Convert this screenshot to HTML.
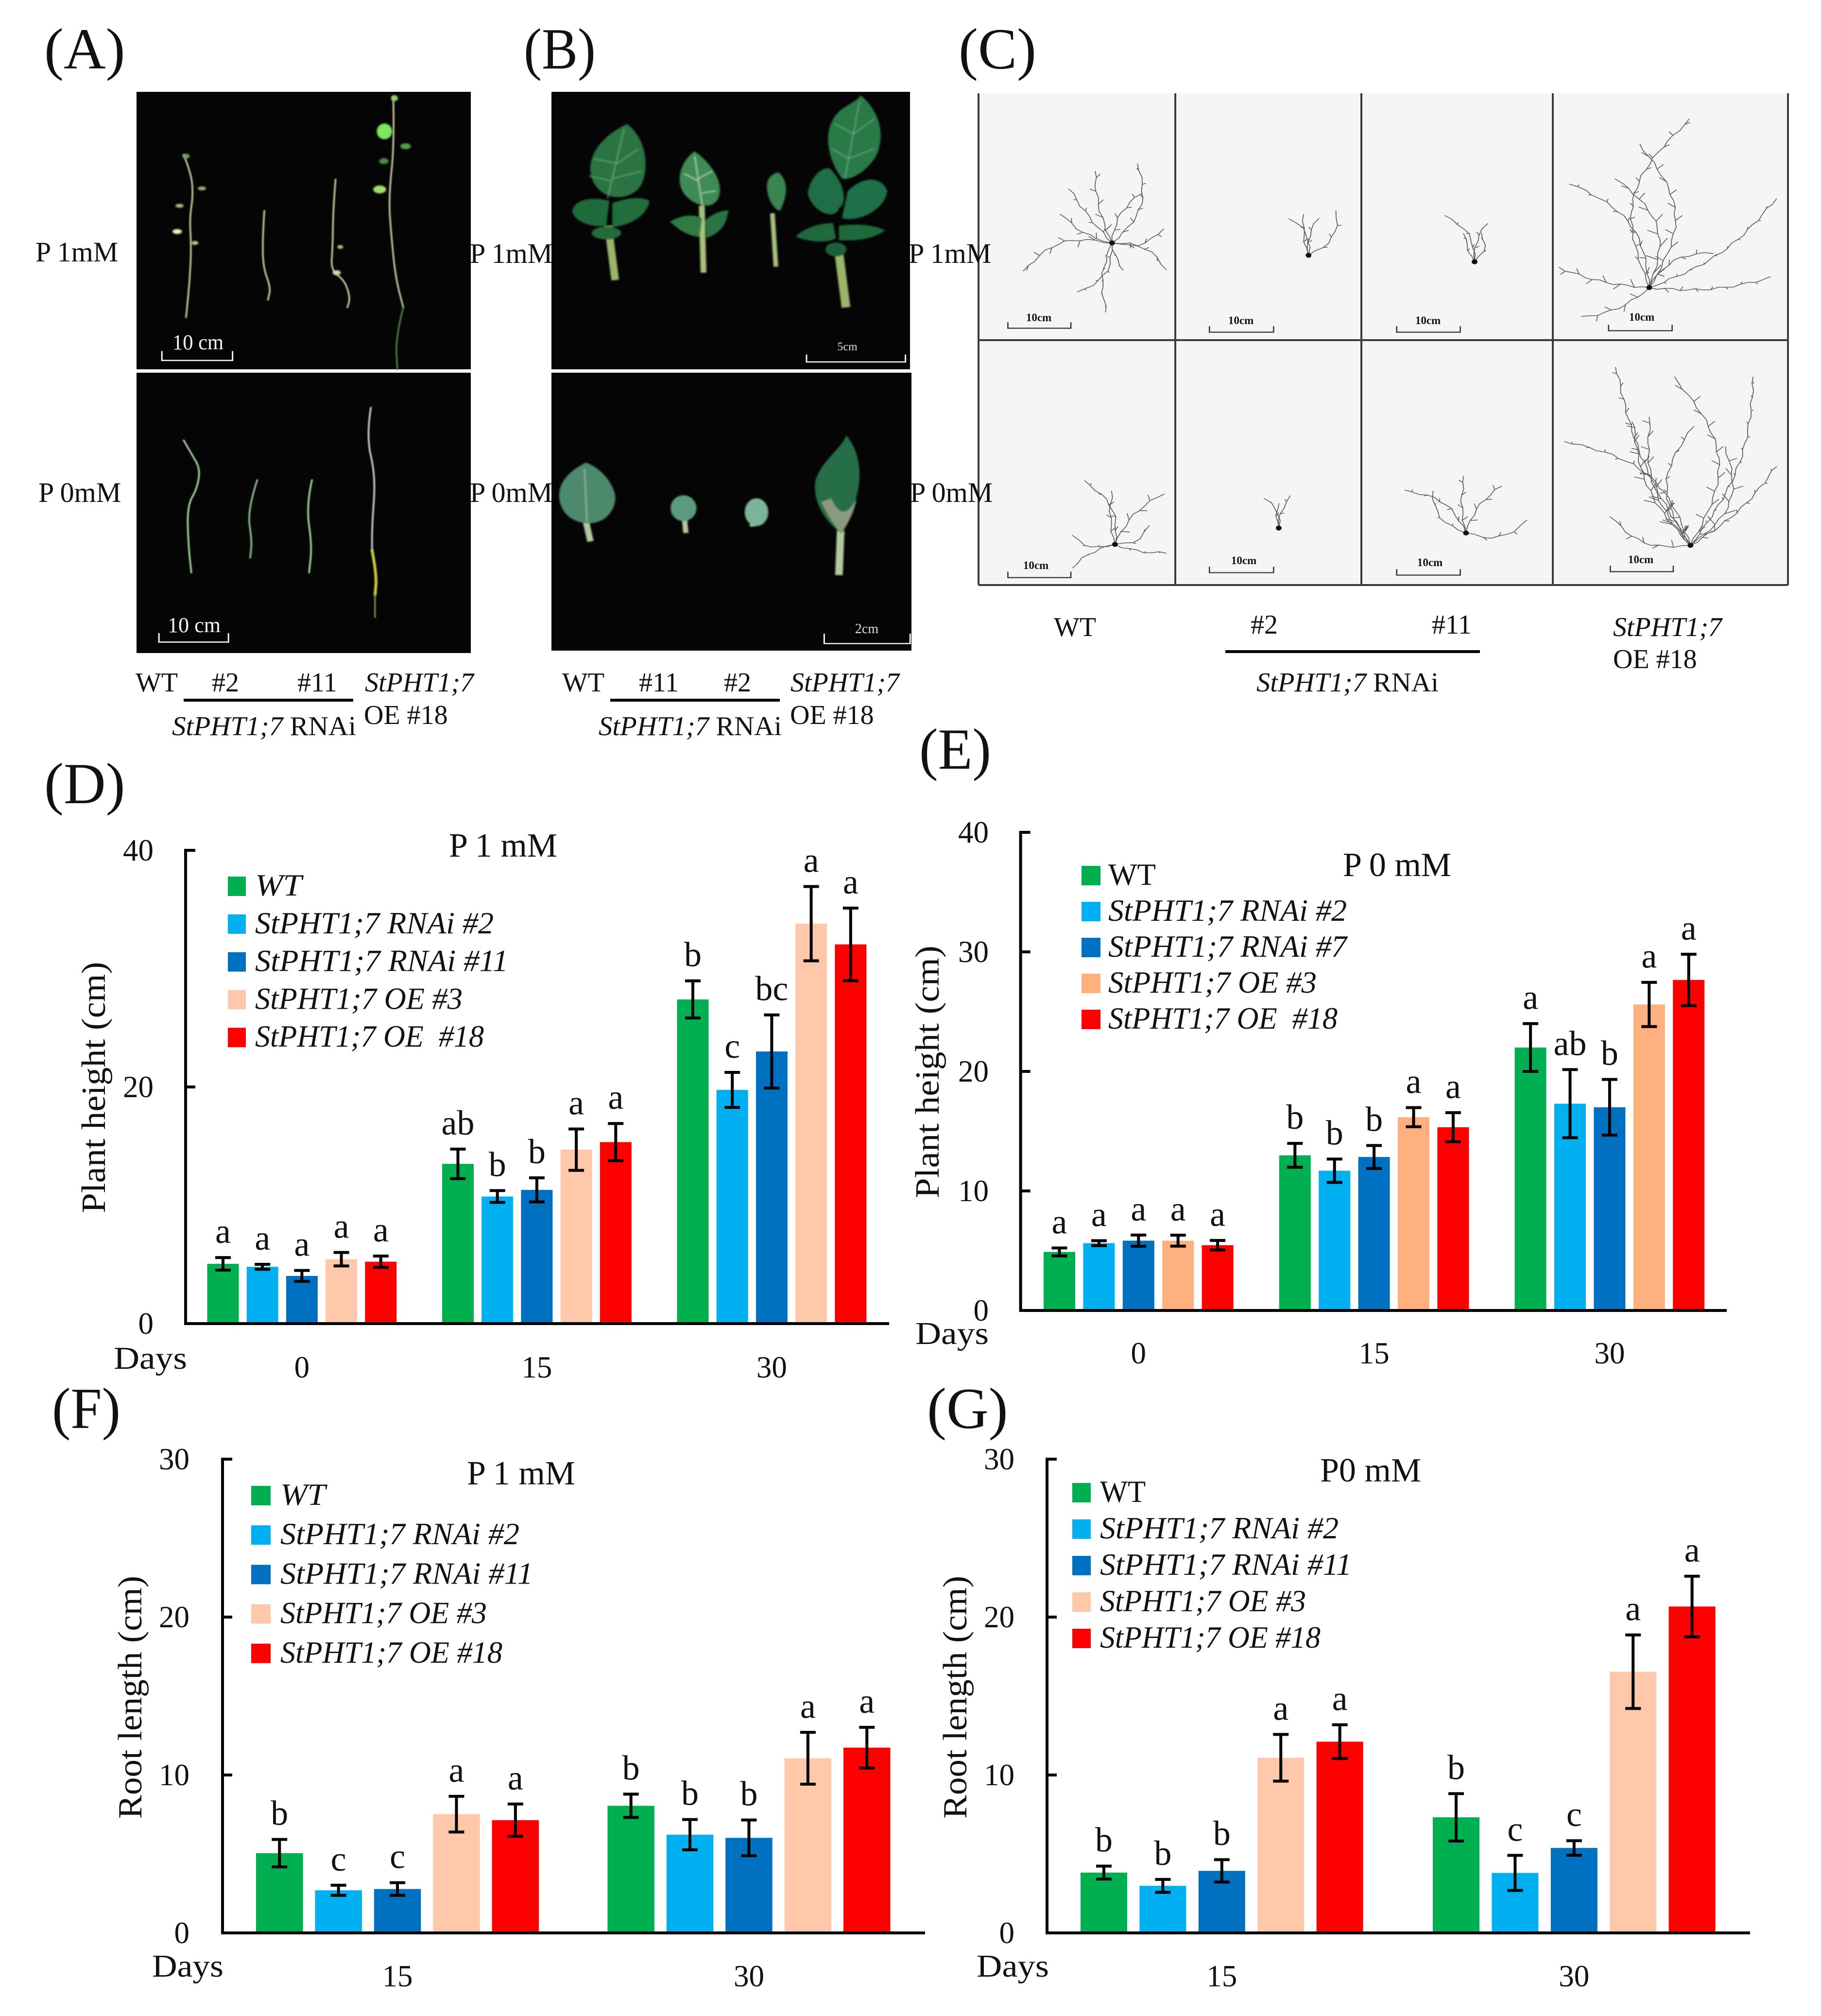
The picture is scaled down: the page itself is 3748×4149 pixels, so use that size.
<!DOCTYPE html>
<html lang="en">
<head>
<meta charset="utf-8">
<title>StPHT1;7 plant phenotype figure</title>
<style>
html,body{margin:0;padding:0;background:#fff}
svg{display:block}
text{font-family:"Liberation Serif",serif;fill:#111}
.plant{fill:none;stroke:#c4c69c;stroke-width:3;stroke-linejoin:round;stroke-linecap:round;filter:blur(1px)}
.leaf{stroke:none}
.soft{filter:blur(1.5px)}
.vein{fill:none;stroke:#7fb58e;stroke-width:2;stroke-opacity:.75}
.sbar{fill:none;stroke:#f2f2f2;stroke-width:2.5}
.cbar{fill:none;stroke:#333;stroke-width:2.2}
</style>
</head>
<body>
<svg xmlns="http://www.w3.org/2000/svg" width="3748" height="4149" viewBox="0 0 3748 4149">
<rect width="3748" height="4149" fill="#fff"/>

<!-- Panel A -->
<g>
  <rect x="281" y="189" width="688" height="571" fill="#050505"/>
  <rect x="281" y="767" width="688" height="577" fill="#050505"/>
  <g transform="scale(1.2117,1.0204)">
    <path class="plant" d="M312 312 L325 350 L328 395 L322 440 L325 500 L322 570 L316 640"/>
    <path class="plant" d="M449 425 L446 480 L447 540 L460 580 L455 605"/>
    <path class="plant" d="M570 362 L566 420 L565 500 L562 545 L585 565 L595 600 L590 620"/>
    <path class="plant" d="M668 195 L670 290 L660 400 L665 480 L672 560 L685 620"/>
    <path class="plant" style="stroke:#4c7a45" d="M685 620 L672 680 L675 745"/>
    <g class="soft">
      <ellipse class="leaf" cx="343" cy="380" rx="7" ry="4" fill="#8fb070"/>
      <ellipse class="leaf" cx="305" cy="415" rx="7" ry="4" fill="#9fbb80"/>
      <ellipse class="leaf" cx="301" cy="467" rx="8" ry="5" fill="#e8edb0"/>
      <ellipse class="leaf" cx="331" cy="490" rx="6" ry="4" fill="#b5c890"/>
      <ellipse class="leaf" cx="316" cy="315" rx="6" ry="5" fill="#7aa060"/>
      <ellipse class="leaf" cx="572" cy="550" rx="7" ry="5" fill="#cfd8a0"/>
      <ellipse class="leaf" cx="578" cy="498" rx="5" ry="4" fill="#a8c080"/>
      <ellipse class="leaf" cx="653" cy="265" rx="13" ry="16" fill="#7ce85e"/>
      <ellipse class="leaf" cx="689" cy="295" rx="9" ry="6" fill="#4e9e4a"/>
      <ellipse class="leaf" cx="652" cy="325" rx="8" ry="6" fill="#4a8a48"/>
      <ellipse class="leaf" cx="645" cy="382" rx="11" ry="8" fill="#9ee070"/>
      <ellipse class="leaf" cx="670" cy="198" rx="6" ry="6" fill="#8fd070"/>
    </g>
    <path class="plant" style="stroke:#a9d8a0" d="M312 888 L325 915 L340 945 L335 985 L318 1020 L320 1100 L325 1155"/>
    <path class="plant" style="stroke:#8fc090" d="M437 968 L420 1030 L428 1090 L425 1125"/>
    <path class="plant" style="stroke:#a9d8a0" d="M530 968 L520 1020 L530 1100 L525 1155"/>
    <path class="plant" style="stroke:#c8d8c0" d="M630 822 L622 880 L638 960 L632 1060 L632 1110"/>
    <path class="plant" style="stroke:#c4c83c;stroke-width:5" d="M632 1110 L640 1160 L637 1200"/>
    <path class="plant" style="stroke:#6d8a4a" d="M637 1200 L637 1245"/>
    <path class="sbar" d="M275 708 V727 H395 V708"/>
    <path class="sbar" d="M270 1277 V1295 H388 V1277"/>
  </g>
  <text x="355" y="719" font-size="44" textLength="105" lengthAdjust="spacingAndGlyphs" style="fill:#f4f4f4">10 cm</text>
  <text x="345" y="1301" font-size="44" textLength="109" lengthAdjust="spacingAndGlyphs" style="fill:#f4f4f4">10 cm</text>
</g>

<!-- Panel B -->
<g>
  <rect x="1135" y="189" width="738" height="571" fill="#050505"/>
  <rect x="1135" y="767" width="741" height="572" fill="#050505"/>
  <g transform="scale(1.2117,1.0204)">
    <g class="soft">
      <path d="M1033 455 L1045 565" stroke="#9ab56a" stroke-width="13" fill="none"/>
      <path d="M1065 250 C1100 280 1105 350 1085 380 C1070 400 1040 405 1020 385 C990 355 995 290 1065 250 Z" fill="#2a7443"/>
      <path class="vein" d="M1060 260 L1032 400 M1048 330 L1085 300 M1042 360 L1090 345 M1048 330 L1008 320 M1040 365 L1000 355"/>
      <path d="M1035 405 C1000 395 975 405 972 425 C975 450 1010 460 1030 455 Z" fill="#1f6a3a"/>
      <path d="M1040 410 C1060 400 1090 395 1103 405 C1100 435 1070 455 1040 458 Z" fill="#216e3c"/>
      <ellipse cx="1030" cy="470" rx="25" ry="13" fill="#256b3a"/>
    </g>
    <g class="soft">
      <path d="M1192 415 L1195 550" stroke="#a8bf7c" stroke-width="10" fill="none"/>
      <path d="M1180 305 C1215 335 1230 375 1220 400 C1210 425 1180 415 1165 395 C1145 370 1155 325 1180 305 Z" fill="#3f8a55"/>
      <path class="vein" style="stroke:#b9d8b0;stroke-width:3" d="M1180 315 L1193 415 M1186 360 L1210 345 M1190 390 L1216 385 M1186 365 L1162 350"/>
      <path d="M1138 447 C1160 432 1180 432 1192 440 L1188 478 C1165 475 1150 460 1138 447 Z" fill="#2f7a45"/>
      <path d="M1198 445 C1210 430 1225 425 1237 424 C1235 450 1225 470 1200 480 Z" fill="#2a7443"/>
    </g>
    <g class="soft">
      <path d="M1312 430 L1318 538" stroke="#a8bf7c" stroke-width="8" fill="none"/>
      <path d="M1322 347 C1340 365 1338 395 1325 425 C1315 425 1300 395 1303 370 C1305 355 1315 350 1322 347 Z" fill="#3a8450"/>
    </g>
    <g class="soft">
      <path d="M1425 510 L1437 620" stroke="#9ab56a" stroke-width="15" fill="none"/>
      <path d="M1462 192 C1490 220 1505 265 1490 310 C1475 345 1445 365 1430 360 C1405 320 1395 260 1425 225 C1440 210 1455 205 1462 192 Z" fill="#2a7a48"/>
      <path class="vein" d="M1460 205 L1435 360 M1450 270 L1485 240 M1442 320 L1485 300 M1450 270 L1418 250 M1442 320 L1412 300"/>
      <path d="M1425 420 C1420 445 1380 430 1372 390 C1375 360 1395 335 1410 340 C1435 370 1440 410 1425 420 Z" fill="#1f6e48"/>
      <path d="M1440 385 C1470 350 1500 360 1507 385 C1505 420 1460 450 1430 440 Z" fill="#1e7048"/>
      <path d="M1415 450 C1380 450 1355 470 1352 478 C1380 490 1410 490 1420 480 Z" fill="#1f6a3c"/>
      <path d="M1425 455 C1460 450 1490 455 1503 465 C1480 485 1450 485 1425 485 Z" fill="#1f6a3c"/>
      <ellipse cx="1420" cy="503" rx="18" ry="14" fill="#1d6038"/>
    </g>
    <g class="soft">
      <path d="M995 1050 L1003 1092" stroke="#b5c9a0" stroke-width="11" fill="none"/>
      <path d="M995 933 C1025 945 1048 985 1045 1010 C1040 1045 1015 1058 995 1055 C965 1052 948 1025 950 995 C952 965 975 945 995 933 Z" fill="#4d8a6d"/>
      <path class="vein" style="stroke:#b9d8c0" d="M993 945 L997 1052"/>
      <path d="M1163 1050 L1165 1075" stroke="#b5c9a0" stroke-width="9" fill="none"/>
      <ellipse cx="1161" cy="1025" rx="22" ry="26" fill="#5c9a80"/>
      <path d="M1278 1050 L1278 1062" stroke="#b5c9a0" stroke-width="9" fill="none"/>
      <ellipse cx="1285" cy="1033" rx="20" ry="28" fill="#7ab59a"/>
      <path d="M1428 1070 L1425 1160" stroke="#b5c9a0" stroke-width="13" fill="none"/>
      <path d="M1438 878 C1465 920 1465 970 1450 1020 C1440 1060 1432 1075 1428 1075 C1400 1050 1380 1010 1385 970 C1395 930 1425 910 1438 878 Z" fill="#266e48"/>
      <path d="M1395 1012 C1405 1040 1420 1065 1428 1075 C1440 1060 1452 1030 1455 1005 C1440 1040 1425 1040 1412 1005 Z" fill="#8a9a80"/>
    </g>
    <path class="sbar" d="M1370 715 V730 H1538 V715"/>
    <path class="sbar" d="M1400 1278 V1298 H1546 V1278"/>
  </g>
  <text x="1744" y="721" font-size="24" text-anchor="middle" style="fill:#ddd">5cm</text>
  <text x="1784" y="1303" font-size="28" text-anchor="middle" style="fill:#ddd">2cm</text>
</g>

<!-- Panel C -->
<g>
  <rect x="2014" y="192" width="1666" height="1012" fill="#f5f5f5"/>
  <g id="root-layer" transform="translate(1900,0) scale(1.1786,1.0204)">
    <path class="cbar" d="M148 650 V662 H258 V650"/>
    <path class="cbar" d="M500 658 V670 H612 V658"/>
    <path class="cbar" d="M827 658 V670 H938 V658"/>
    <path class="cbar" d="M1197 655 V667 H1308 V655"/>
    <path class="cbar" d="M148 1153 V1165 H258 V1153"/>
    <path class="cbar" d="M500 1143 V1155 H612 V1143"/>
    <path class="cbar" d="M827 1148 V1160 H938 V1148"/>
    <path class="cbar" d="M1200 1141 V1153 H1310 V1141"/>
  </g>
  <g stroke="#3c3c3c" stroke-width="4">
    <line x1="2014" y1="192" x2="2014" y2="1204"/>
    <line x1="2419" y1="192" x2="2419" y2="1204"/>
    <line x1="2802" y1="192" x2="2802" y2="1204"/>
    <line x1="3196" y1="192" x2="3196" y2="1204"/>
    <line x1="3680" y1="192" x2="3680" y2="1204"/>
    <line x1="2014" y1="700" x2="3680" y2="700"/>
    <line x1="2014" y1="1204" x2="3680" y2="1204"/>
  </g>
  <g font-size="23" font-weight="bold" text-anchor="middle">
    <text x="2138" y="661">10cm</text>
    <text x="2554" y="667">10cm</text>
    <text x="2939" y="667">10cm</text>
    <text x="3379" y="660">10cm</text>
    <text x="2132" y="1171">10cm</text>
    <text x="2560" y="1161">10cm</text>
    <text x="2943" y="1165">10cm</text>
    <text x="3377" y="1159">10cm</text>
  </g>
</g>

<!-- Panel letters -->
<g font-size="120">
  <text x="91" y="141">(A)</text>
  <text x="1078" y="141" textLength="148" lengthAdjust="spacingAndGlyphs">(B)</text>
  <text x="1973" y="141">(C)</text>
  <text x="91" y="1653">(D)</text>
  <text x="1892" y="1582" textLength="148" lengthAdjust="spacingAndGlyphs">(E)</text>
  <text x="107" y="2939" textLength="141" lengthAdjust="spacingAndGlyphs">(F)</text>
  <text x="1908" y="2939">(G)</text>
</g>

<!-- Treatment labels -->
<g font-size="58">
  <text x="73" y="538">P 1mM</text>
  <text x="79" y="1033">P 0mM</text>
  <text x="967" y="541">P 1mM</text>
  <text x="967" y="1033">P 0mM</text>
  <text x="1870" y="541">P 1mM</text>
  <text x="1873" y="1033">P 0mM</text>
</g>

<!-- Genotype captions -->
<g font-size="56">
  <text x="279" y="1423">WT</text>
  <text x="436" y="1423">#2</text>
  <text x="612" y="1423">#11</text>
  <text x="751" y="1423" font-style="italic">StPHT1;7</text>
  <text x="749" y="1490">OE #18</text>
  <rect x="378" y="1438" width="349" height="6" fill="#000"/>
  <text x="354" y="1513" textLength="379" lengthAdjust="spacingAndGlyphs"><tspan font-style="italic">StPHT1;7</tspan> RNAi</text>

  <text x="1157" y="1423">WT</text>
  <text x="1315" y="1423">#11</text>
  <text x="1490" y="1423">#2</text>
  <text x="1627" y="1423" font-style="italic">StPHT1;7</text>
  <text x="1626" y="1490">OE #18</text>
  <rect x="1256" y="1438" width="349" height="6" fill="#000"/>
  <text x="1232" y="1513" textLength="377" lengthAdjust="spacingAndGlyphs"><tspan font-style="italic">StPHT1;7</tspan> RNAi</text>

  <text x="2169" y="1309">WT</text>
  <text x="2574" y="1304">#2</text>
  <text x="2947" y="1304">#11</text>
  <text x="3320" y="1309" font-style="italic">StPHT1;7</text>
  <text x="3320" y="1375">OE #18</text>
  <rect x="2522" y="1338" width="524" height="6" fill="#000"/>
  <text x="2586" y="1423" textLength="375" lengthAdjust="spacingAndGlyphs"><tspan font-style="italic">StPHT1;7</tspan> RNAi</text>
</g>

<!-- Charts -->
<g id="chart-d">
  <text x="924" y="1763" font-size="70">P 1 mM</text>
  <text transform="translate(216,2238) rotate(-90)" font-size="70" text-anchor="middle" textLength="517" lengthAdjust="spacingAndGlyphs">Plant height (cm)</text>
  <text x="234" y="2817" font-size="66" textLength="151" lengthAdjust="spacingAndGlyphs">Days</text>
</g>
<g id="chart-e">
  <text x="2764" y="1803" font-size="70">P 0 mM</text>
  <text transform="translate(1932,2206) rotate(-90)" font-size="70" text-anchor="middle" textLength="520" lengthAdjust="spacingAndGlyphs">Plant height (cm)</text>
  <text x="1884" y="2766" font-size="66" textLength="151" lengthAdjust="spacingAndGlyphs">Days</text>
</g>
<g id="chart-f">
  <text x="961" y="3055" font-size="70">P 1 mM</text>
  <text transform="translate(291,3493) rotate(-90)" font-size="70" text-anchor="middle" textLength="500" lengthAdjust="spacingAndGlyphs">Root length (cm)</text>
  <text x="313" y="4068" font-size="66" textLength="147" lengthAdjust="spacingAndGlyphs">Days</text>
</g>
<g id="chart-g">
  <text x="2717" y="3049" font-size="70">P0 mM</text>
  <text transform="translate(1989,3493) rotate(-90)" font-size="70" text-anchor="middle" textLength="500" lengthAdjust="spacingAndGlyphs">Root length (cm)</text>
  <text x="2010" y="4068" font-size="66" textLength="149" lengthAdjust="spacingAndGlyphs">Days</text>
</g>
</svg>

<script>
/* ---------- Chart D: plant height, P 1 mM ---------- */
const dDays = ['0', '15', '30'];
const dTicks = [0, 20, 40];
const dLegend = ['WT', 'StPHT1;7 RNAi #2', 'StPHT1;7 RNAi #11', 'StPHT1;7 OE #3', 'StPHT1;7 OE  #18'];
const dWT = [5.05, 13.5, 27.4];
const dRNAi2 = [4.8, 10.74, 19.75];
const dRNAi11 = [4.03, 11.3, 23.0];
const dOE3 = [5.44, 14.7, 33.8];
const dOE18 = [5.23, 15.34, 32.05];
const dErrWT = [0.53, 1.25, 1.57];
const dErrRNAi2 = [0.21, 0.5, 1.48];
const dErrRNAi11 = [0.46, 1.02, 3.09];
const dErrOE3 = [0.57, 1.75, 3.14];
const dErrOE18 = [0.48, 1.57, 3.07];
const dLetWT = ['a', 'ab', 'b'];
const dLetRNAi2 = ['a', 'b', 'c'];
const dLetRNAi11 = ['a', 'b', 'bc'];
const dLetOE3 = ['a', 'a', 'a'];
const dLetOE18 = ['a', 'a', 'a'];

/* ---------- Chart E: plant height, P 0 mM ---------- */
const eDays = ['0', '15', '30'];
const eTicks = [0, 10, 20, 30, 40];
const eLegend = ['WT', 'StPHT1;7 RNAi #2', 'StPHT1;7 RNAi #7', 'StPHT1;7 OE #3', 'StPHT1;7 OE  #18'];
const eWT = [4.9, 12.98, 22.0];
const eRNAi2 = [5.63, 11.69, 17.3];
const eRNAi7 = [5.84, 12.84, 17.0];
const eOE3 = [5.84, 16.17, 25.6];
const eOE18 = [5.46, 15.33, 27.65];
const eErrWT = [0.33, 1.0, 2.0];
const eErrRNAi2 = [0.21, 0.98, 2.85];
const eErrRNAi7 = [0.47, 0.96, 2.33];
const eErrOE3 = [0.46, 0.8, 1.85];
const eErrOE18 = [0.4, 1.22, 2.15];
const eLetWT = ['a', 'b', 'a'];
const eLetRNAi2 = ['a', 'b', 'ab'];
const eLetRNAi7 = ['a', 'b', 'b'];
const eLetOE3 = ['a', 'a', 'a'];
const eLetOE18 = ['a', 'a', 'a'];

/* ---------- Chart F: root length, P 1 mM ---------- */
const fDays = ['15', '30'];
const fTicks = [0, 10, 20, 30];
const fLegend = ['WT', 'StPHT1;7 RNAi #2', 'StPHT1;7 RNAi #11', 'StPHT1;7 OE #3', 'StPHT1;7 OE #18'];
const fWT = [5.05, 8.05];
const fRNAi2 = [2.7, 6.22];
const fRNAi11 = [2.78, 6.02];
const fOE3 = [7.52, 11.06];
const fOE18 = [7.14, 11.73];
const fErrWT = [0.87, 0.74];
const fErrRNAi2 = [0.32, 0.96];
const fErrRNAi11 = [0.4, 1.13];
const fErrOE3 = [1.13, 1.64];
const fErrOE18 = [1.02, 1.29];
const fLetWT = ['b', 'b'];
const fLetRNAi2 = ['c', 'b'];
const fLetRNAi11 = ['c', 'b'];
const fLetOE3 = ['a', 'a'];
const fLetOE18 = ['a', 'a'];

/* ---------- Chart G: root length, P 0 mM ---------- */
const gDays = ['15', '30'];
const gTicks = [0, 10, 20, 30];
const gLegend = ['WT', 'StPHT1;7 RNAi #2', 'StPHT1;7 RNAi #11', 'StPHT1;7 OE #3', 'StPHT1;7 OE #18'];
const gWT = [3.82, 7.32];
const gRNAi2 = [2.98, 3.8];
const gRNAi11 = [3.93, 5.38];
const gOE3 = [11.09, 16.54];
const gOE18 = [12.11, 20.67];
const gErrWT = [0.41, 1.5];
const gErrRNAi2 = [0.41, 1.11];
const gErrRNAi11 = [0.71, 0.46];
const gErrOE3 = [1.48, 2.33];
const gErrOE18 = [1.07, 1.92];
const gLetWT = ['b', 'b'];
const gLetRNAi2 = ['b', 'c'];
const gLetRNAi11 = ['b', 'c'];
const gLetOE3 = ['a', 'a'];
const gLetOE18 = ['a', 'a'];

/* ---------- Geometry of each plot (axis functions read these) ---------- */
const frameD = {axisX: 382, topY: 1750, baseY: 2724, endX: 1830, firstBar: 426.5, barStep: 81.2, barW: 65, groupStep: 483.5, tickRight: 316, catDrop: 111, swatchX: 469, swatchW: 37, legendTextX: 525, legendY: 1824, legendStep: 77.8, romanWT: false, peach: '#FFC8AA', legendFit: [96, 491, 521, 427, 471]};
const frameE = {axisX: 2100.6, topY: 1713, baseY: 2697, endX: 3554, firstBar: 2148, barStep: 81.4, barW: 65, groupStep: 484.8, tickRight: 2035, catDrop: 109, swatchX: 2226, swatchW: 39, legendTextX: 2281, legendY: 1802, legendStep: 74, romanWT: true, peach: '#FFB07E', legendFit: [98, 491, 491, 429, 472]};
const frameF = {axisX: 458, topY: 3003, baseY: 3978, endX: 1904, firstBar: 527, barStep: 121.4, barW: 96.5, groupStep: 723.4, tickRight: 390, catDrop: 110, swatchX: 517, swatchW: 40, legendTextX: 577, legendY: 3078, legendStep: 81.2, romanWT: false, peach: '#FFC8AA', legendFit: [93, 492, 520, 425, 457]};
const frameG = {axisX: 2155, topY: 3003, baseY: 3978, endX: 3602, firstBar: 2224, barStep: 121.4, barW: 96, groupStep: 725, tickRight: 2088, catDrop: 110, swatchX: 2207, swatchW: 38, legendTextX: 2264, legendY: 3072, legendStep: 75, romanWT: true, peach: '#FFC8AA', legendFit: [94, 491, 518, 424, 454]};

const SVG_NS = 'http://www.w3.org/2000/svg';
function node(tag, parent) {
  const el = document.createElementNS(SVG_NS, tag);
  parent.appendChild(el);
  return el;
}

function drawChart(rootId, frame, days, ticks, legend, seriesKeys, values, errors, letters) {
  const root = document.getElementById(rootId);
  const fills = ['#00B050', '#00B0F0', '#0070C0', frame.peach, '#FF0000'];
  const yMax = ticks[ticks.length - 1];
  const yScale = v => frame.baseY - (v / yMax) * (frame.baseY - frame.topY);
  const xScale = (g, s) => frame.firstBar + g * frame.groupStep + s * frame.barStep;

  values.forEach((series, s) => {
    series.forEach((v, g) => {
      const bar = node('rect', root);
      
      
      bar.setAttribute('x', xScale(g, s));
      bar.setAttribute('y', yScale(v));
      bar.setAttribute('width', frame.barW);
      bar.setAttribute('height', frame.baseY - yScale(v));
      bar.setAttribute('fill', fills[s]);
    });
  });

  errors.forEach((series, s) => {
    series.forEach((e, g) => {
      const cx = xScale(g, s) + frame.barW / 2;
      const hi = yScale(values[s][g] + e);
      const lo = yScale(values[s][g] - e);
      const err = node('path', root);
      
      
      err.setAttribute('d', `M${cx} ${hi}V${lo}M${cx - 16} ${hi}H${cx + 16}M${cx - 16} ${lo}H${cx + 16}`);
      err.setAttribute('stroke', '#000');
      err.setAttribute('stroke-width', '6');
      err.setAttribute('fill', 'none');

      const mark = node('text', root);
      
      
      mark.setAttribute('x', cx);
      mark.setAttribute('y', hi - 30);
      mark.setAttribute('font-size', '72');
      mark.setAttribute('text-anchor', 'middle');
      mark.textContent = letters[s][g];
    });
  });

  const yAxis = node('line', root);
  
  
  yAxis.setAttribute('x1', frame.axisX);
  yAxis.setAttribute('x2', frame.axisX);
  yAxis.setAttribute('y1', frame.topY - 3);
  yAxis.setAttribute('y2', frame.baseY + 3);
  yAxis.setAttribute('stroke', '#000');
  yAxis.setAttribute('stroke-width', '6');

  const xAxis = node('line', root);
  
  
  xAxis.setAttribute('x1', frame.axisX);
  xAxis.setAttribute('x2', frame.endX);
  xAxis.setAttribute('y1', frame.baseY);
  xAxis.setAttribute('y2', frame.baseY);
  xAxis.setAttribute('stroke', '#000');
  xAxis.setAttribute('stroke-width', '6');

  ticks.forEach(t => {
    const tick = node('line', root);
    
    
    tick.setAttribute('x1', frame.axisX);
    tick.setAttribute('x2', frame.axisX + 20);
    tick.setAttribute('y1', yScale(t));
    tick.setAttribute('y2', yScale(t));
    tick.setAttribute('stroke', '#000');
    tick.setAttribute('stroke-width', '6');

    const label = node('text', root);
    
    
    label.setAttribute('x', frame.tickRight);
    label.setAttribute('y', yScale(t) + 21);
    label.setAttribute('font-size', '63');
    label.setAttribute('text-anchor', 'end');
    label.textContent = t;
  });

  days.forEach((day, g) => {
    const cat = node('text', root);
    
    
    cat.setAttribute('x', xScale(g, 2) + frame.barW / 2);
    cat.setAttribute('y', frame.baseY + frame.catDrop);
    cat.setAttribute('font-size', '63');
    cat.setAttribute('text-anchor', 'middle');
    cat.textContent = day;
  });

  legend.forEach((name, s) => {
    const rowY = frame.legendY + s * frame.legendStep;
    const swatch = node('rect', root);
    
    
    swatch.setAttribute('x', frame.swatchX);
    swatch.setAttribute('y', rowY - 20);
    swatch.setAttribute('width', frame.swatchW);
    swatch.setAttribute('height', 40);
    swatch.setAttribute('fill', fills[s]);

    const entry = node('text', root);
    
    
    entry.setAttribute('x', frame.legendTextX);
    entry.setAttribute('y', rowY + 19);
    entry.setAttribute('font-size', '64');
    entry.setAttribute('font-style', (s === 0 && frame.romanWT) ? 'normal' : 'italic');
    entry.setAttribute('textLength', frame.legendFit[s]);
    entry.setAttribute('lengthAdjust', 'spacingAndGlyphs');
    entry.style.whiteSpace = 'pre';
    entry.textContent = name;
  });
}

drawChart('chart-d', frameD, dDays, dTicks, dLegend,
  ['wt', 'rnai-2', 'rnai-11', 'oe-3', 'oe-18'],
  [dWT, dRNAi2, dRNAi11, dOE3, dOE18],
  [dErrWT, dErrRNAi2, dErrRNAi11, dErrOE3, dErrOE18],
  [dLetWT, dLetRNAi2, dLetRNAi11, dLetOE3, dLetOE18]);
drawChart('chart-e', frameE, eDays, eTicks, eLegend,
  ['wt', 'rnai-2', 'rnai-7', 'oe-3', 'oe-18'],
  [eWT, eRNAi2, eRNAi7, eOE3, eOE18],
  [eErrWT, eErrRNAi2, eErrRNAi7, eErrOE3, eErrOE18],
  [eLetWT, eLetRNAi2, eLetRNAi7, eLetOE3, eLetOE18]);
drawChart('chart-f', frameF, fDays, fTicks, fLegend,
  ['wt', 'rnai-2', 'rnai-11', 'oe-3', 'oe-18'],
  [fWT, fRNAi2, fRNAi11, fOE3, fOE18],
  [fErrWT, fErrRNAi2, fErrRNAi11, fErrOE3, fErrOE18],
  [fLetWT, fLetRNAi2, fLetRNAi11, fLetOE3, fLetOE18]);
drawChart('chart-g', frameG, gDays, gTicks, gLegend,
  ['wt', 'rnai-2', 'rnai-11', 'oe-3', 'oe-18'],
  [gWT, gRNAi2, gRNAi11, gOE3, gOE18],
  [gErrWT, gErrRNAi2, gErrRNAi11, gErrOE3, gErrOE18],
  [gLetWT, gLetRNAi2, gLetRNAi11, gLetOE3, gLetOE18]);

/* ---------- Smooth the hand-traced stems in panel A ---------- */
document.querySelectorAll('.plant').forEach(stem => {
  const nums = stem.getAttribute('d').match(/\d+/g).map(Number);
  const pts = [];
  for (let i = 0; i < nums.length; i += 2) pts.push([nums[i], nums[i + 1]]);
  let d = `M${pts[0][0]} ${pts[0][1]}`;
  for (let i = 1; i < pts.length - 1; i++) {
    const mx = (pts[i][0] + pts[i + 1][0]) / 2;
    const my = (pts[i][1] + pts[i + 1][1]) / 2;
    d += `Q${pts[i][0]} ${pts[i][1]} ${mx} ${my}`;
  }
  d += `L${pts[pts.length - 1][0]} ${pts[pts.length - 1][1]}`;
  stem.setAttribute('d', d);
});

/* ---------- Panel C root sketches (illustration, not chart data) ---------- */
function rootSketch(ox, oy, tips) {
  let d = '';
  tips.forEach((tip, k) => {
    const dx = tip[0] - ox, dy = tip[1] - oy, len = Math.hypot(dx, dy);
    const nx = -dy / len, ny = dx / len;
    const bend = len * 0.2 * Math.sin(k * 2.4 + 1);
    const steps = Math.max(4, Math.round(len / 13));
    d += `M${ox} ${oy}`;
    for (let i = 1; i <= steps; i++) {
      const t = i / steps;
      const off = bend * Math.sin(Math.PI * t) + 2.2 * Math.sin(i * 1.9 + k);
      const x = ox + dx * t + nx * off;
      const y = oy + dy * t + ny * off;
      d += `L${x.toFixed(1)} ${y.toFixed(1)}`;
      if (i > 1 && i < steps && i % 2 === 0) {
        const side = i % 4 ? 1 : -1;
        const twig = Math.min(24, len * 0.13) * (1 - t * 0.4) * (0.6 + 0.4 * Math.sin(i * 3.1 + k));
        const tx = x + (dx / len * 0.6 + nx * side * 0.8) * twig;
        const ty = y + (dy / len * 0.6 + ny * side * 0.8) * twig;
        d += `L${tx.toFixed(1)} ${ty.toFixed(1)}M${x.toFixed(1)} ${y.toFixed(1)}`;
      }
    }
  });
  return d;
}
const rootLayer = document.getElementById('root-layer');
[
  [330, 490, [[375, 330], [300, 345], [240, 430], [175, 548], [270, 590], [320, 630], [350, 545], [425, 545], [420, 460], [380, 390], [255, 380]]],
  [673, 515, [[640, 440], [665, 432], [690, 440], [722, 425]]],
  [963, 528, [[910, 435], [945, 470], [985, 450], [975, 470]]],
  [1268, 580, [[1130, 370], [1110, 540], [1150, 640], [1250, 290], [1340, 240], [1490, 400], [1480, 560], [1380, 510], [1210, 360]]],
  [335, 1098, [[280, 970], [330, 990], [420, 995], [395, 1060], [260, 1080], [260, 1145], [425, 1115]]],
  [621, 1065, [[595, 1005], [620, 1015], [643, 1000]]],
  [948, 1075, [[840, 990], [945, 960], [1010, 980], [1055, 1050], [890, 990]]],
  [1340, 1100, [[1120, 890], [1210, 740], [1240, 850], [1310, 760], [1345, 860], [1450, 760], [1490, 940], [1200, 1040], [1400, 900], [1270, 840]]]
].forEach(spec => {
  const sketch = node('path', rootLayer);
  
  
  sketch.setAttribute('d', rootSketch(spec[0], spec[1], spec[2]));
  sketch.setAttribute('fill', 'none');
  sketch.setAttribute('stroke', '#2a2a2a');
  sketch.setAttribute('stroke-width', '1.5');
  sketch.setAttribute('stroke-opacity', '0.75');

  const crown = node('circle', rootLayer);
  
  
  crown.setAttribute('cx', spec[0]);
  crown.setAttribute('cy', spec[1]);
  crown.setAttribute('r', 5);
  crown.setAttribute('fill', '#111');
});
</script>
</body>
</html>
